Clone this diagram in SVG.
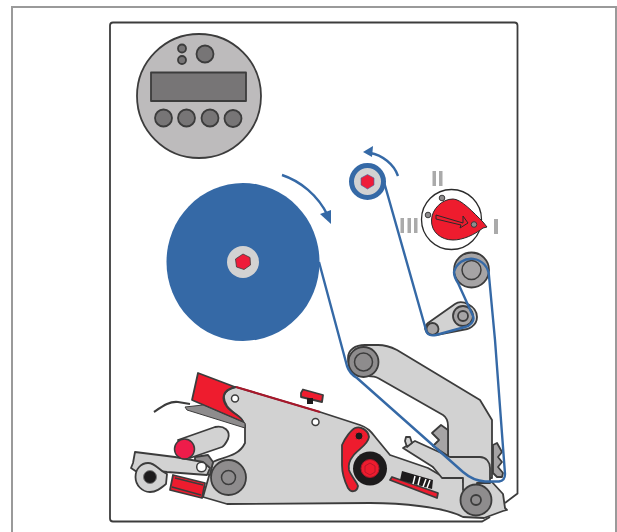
<svg xmlns="http://www.w3.org/2000/svg" width="617" height="532" viewBox="0 0 617 532">
<style>
.o{stroke:#3c3c3c;stroke-width:1.800;stroke-linejoin:round}
.l{fill:#d2d2d2}.m{fill:#8e8c8d}.g{fill:#a6a4a5}.r{fill:#ee1c2e}.k{fill:#1d1b1c}
.b{fill:none;stroke:#3569a6;stroke-width:2.400;stroke-linejoin:round}
.t{fill:#aaa}
.d{fill:#777576}
</style>
<rect width="617" height="532" fill="#fff"/>
<path d="M12 532V7H616V532" fill="none" stroke="#9a9a9a" stroke-width="2"/>
<g id="panel"><path d="M505 503L517.500 493.500V25.500Q517.500 22.500 514.500 22.500H113Q110 22.500 110 25.500V518.500Q110 521.500 113 521.500H482L490 517" fill="#fff" stroke="#3c3c3c" stroke-width="1.800"/></g>
<g id="controller">
<circle cx="199" cy="96" r="62" fill="#bdbbbc" class="o"/>
<rect x="151" y="72.500" width="95" height="28.500" class="d o"/>
<circle cx="182" cy="48.500" r="4" class="d o"/><circle cx="182" cy="60" r="4" class="d o"/><circle cx="205" cy="54" r="8.500" class="d o"/>
<circle cx="163.500" cy="118" r="8.500" class="d o"/><circle cx="186.500" cy="118" r="8.500" class="d o"/><circle cx="210" cy="118" r="8.500" class="d o"/><circle cx="233" cy="118.500" r="8.500" class="d o"/>
</g>
<g id="label-roll">
<ellipse cx="243" cy="262" rx="76.500" ry="79" fill="#3569a6"/>
<circle cx="243" cy="262" r="16" fill="#d2d2d2"/>
<path d="M243 254L250 257.500L250.500 265L244 269.500L236.500 267L235.500 259Z" fill="#ee1c3a" stroke="#3c3c3c" stroke-width=".8"/>
</g>
<g id="cam">
<circle cx="451.500" cy="219.500" r="30" fill="#fff" stroke="#2a2a2a" stroke-width="1.300"/>
<circle cx="442" cy="198" r="2.800" class="m" stroke="#3c3c3c"/><circle cx="428" cy="215" r="2.800" class="m" stroke="#3c3c3c"/>
<path d="M431.500 220C432 209 442 199 453 199C461 199 473 212 483 222L487 227L483 228C474 235 463 240 453 240C441 240 431 232 431.500 220Z" class="r" stroke="#2a2a2a" stroke-width="1"/>
<path d="M436 215L463 223L463 216L468 223L460 228L461 225L436 219Z" fill="none" stroke="#2a2a2a" stroke-width="1"/>
<circle cx="474" cy="224.500" r="2.800" class="m" stroke="#3c3c3c"/>
<path class="t" d="M432.500 171h3.500v15h-3.500zM439 171h3.500v15h-3.500zM400.500 218h3.500v15h-3.500zM407.500 218h3.500v15h-3.500zM414 218h3.500v15h-3.500zM494 219h4v15h-4z"/>
</g>
<g id="top-roller">
<circle cx="367.500" cy="181.500" r="16" fill="#d2d2d2" stroke="#3569a6" stroke-width="5"/>
<path d="M367.500 174.500L374 178V185L367.500 189L361 185V178Z" fill="#ee1c3a" stroke="#3569a6" stroke-width=".6"/>
</g>
<g id="rollers-right">
<circle cx="471.500" cy="270" r="17.500" class="g o"/><circle cx="471.500" cy="270" r="9.500" class="g" stroke="#3c3c3c" stroke-width="1.500"/>
<path d="M428 323L455 304C462 299 477 306 477 317C477 326 468 330 462 330L436 335C426 336 422 328 428 323Z" class="l o"/>
<circle cx="463" cy="316" r="10" class="g o"/><circle cx="463" cy="316" r="5" class="g o"/>
<circle cx="432.500" cy="329" r="6" class="g o"/>
</g>
<g id="peeler-body">
<path d="M236 387L320 412L360 425C369 428 372 433 376 438L390 455L428 468L445 478H463V482H492L503 494L505 508L507 510L503 511L484 518L463 517C445 507 400 503 370 503L227 504L203 497L213 462C220 457 238 458 245 443V425C243 417 232 413 227 406C222 398 222 390 236 387Z" class="l o"/>
<path d="M198 373L192 400L243 422C243 417 233 414 227 407C221 399 222 390 235 387Z" class="r o"/>
<path d="M236 387L320 412" stroke="#a8172a" stroke-width="2.200" fill="none"/>
<path d="M185 407L203 405L245 423V428L187 410Z" class="m" stroke="#3c3c3c"/>
<path d="M154 412C163 406 170 401 178 402L190 404" fill="none" stroke="#3c3c3c" stroke-width="2.200"/>
<circle cx="235" cy="398.500" r="3.500" fill="#fff" stroke="#3c3c3c" stroke-width="1.500"/><circle cx="315.500" cy="422" r="3.500" fill="#fff" stroke="#3c3c3c" stroke-width="1.500"/>
<path d="M301 393L303 389.500L323 395L322 402L301 397Z" class="r o"/><path d="M307 398h6v6h-6z" class="k"/>
</g>
<g id="arm">
<path d="M348 358C348 350 355 345 365 345H378C386 345 391 347 397 350L480 400L492 420V478H448L433 467L448 456V426C448 420 446 417 443 415L378 378C370 373 360 380 352 372C349 368 348 363 348 358Z" class="l o"/>
<circle cx="363.500" cy="362" r="15" class="m o"/><circle cx="363.500" cy="362" r="9" class="m" stroke="#3c3c3c" stroke-width="1.500"/>
<path d="M432 433L441 425L448 430V456L433 446L439 440Z" class="g o"/>
</g>
<g id="clip"><path d="M493 445L497 443L502 452L498 457L502 462L498 467L503 473L502 477H497L493 473Z" class="g o"/></g>
<g id="brake">
<path d="M342 445C345 438 351 430 355 428C361 426 368 430 369 437C368 445 358 449 353 456C349 461 348 465 349 470C351 476 357 482 358 486C357 492 351 493 348 488C344 480 342 472 342 465Z" class="r o"/>
<circle cx="359" cy="436" r="4" class="k" stroke="#ee1c2e"/>
<circle cx="370" cy="468.500" r="17" class="k"/><circle cx="370" cy="468.500" r="9" fill="#ee1c2e" stroke="#a8172a"/>
<path d="M370 463L375 466V472L370 475L365 472V466Z" class="r" stroke="#a8172a" stroke-width=".8"/>
</g>
<g id="scale">
<path d="M390 480L392 477L438 493L437 498Z" class="r o"/>
<path d="M402 471L433 480L432 489L400 480Z" class="k"/>
<path d="M415 476l-2 8M420 477l-2 8M426 479l-3 8M430 480l-3 8" stroke="#fff" stroke-width="1.500"/>
</g>
<g id="pressure-arm">
<path d="M403 448L415 441L450 457H480C486 457 490 462 490 468V483H477V490H463V478H442L433 467Z" class="l o"/>
<path d="M406 437L410 437L412 443L407 447L405 441Z" class="l o"/>
<circle cx="476" cy="500" r="15.500" class="m o"/><circle cx="476" cy="500" r="5" class="m o"/>
</g>
<g id="applicator">
<circle cx="228.500" cy="477.500" r="17.500" class="m o"/><circle cx="228.500" cy="477.500" r="7" class="m" stroke="#3c3c3c" stroke-width="1.500"/>
<path d="M195 457L208 455L213 462L210 475L195 470Z" class="m o"/>
<path d="M178 440L215 427C224 425 231 431 228 439C226 443 224 446 222 447L190 458Z" class="l o"/>
<path d="M135 452L175 457L203 462L210 468L207 475L167 472L150 470L137 472L131 468L133 463Z" class="l o"/>
<circle cx="201.500" cy="467" r="4.800" fill="#fff" stroke="#3c3c3c" stroke-width="1.500"/>
<path d="M135.500 477C135.500 469 141 463 148 463C156 463 158 470 167 474L166 484C160 489 156 492 150 492C142 492 135.500 485 135.500 477Z" class="l o"/>
<circle cx="150" cy="477" r="6.500" class="k" stroke="#777" stroke-width="1"/>
<circle cx="184.500" cy="449" r="10" fill="#ee1c4a" stroke="#3c3c3c" stroke-width="1.500"/>
<path d="M173 475L205 483L202 498L170 490Z" class="r o"/>
<path d="M175 478L203 485M172 487L201 495" stroke="#3c3c3c" fill="none" stroke-width="1.500"/>
</g>
<g id="connectors">
<path class="b" d="M319 262L347 366C349 372 352 375 357 378L463 472C470 478 477 481 485 481.500H499C503 481 505 478 505 474L495 340L489 276A17.800 17.800 0 0 0 454 272C454 277 456 280 458 283L473 316C475 321 470 326 465 327L436 335C431 336 427 335 426 330L384 182"/>
<path class="b" d="M282 175C300 181 318 195 328 216"/><path d="M331 224L320 214L331 210Z" fill="#3569a6"/>
<path class="b" d="M398 176C394 164 382 155 370 153"/><path d="M363 152L373 146L372 157Z" fill="#3569a6"/>
</g>
</svg>
